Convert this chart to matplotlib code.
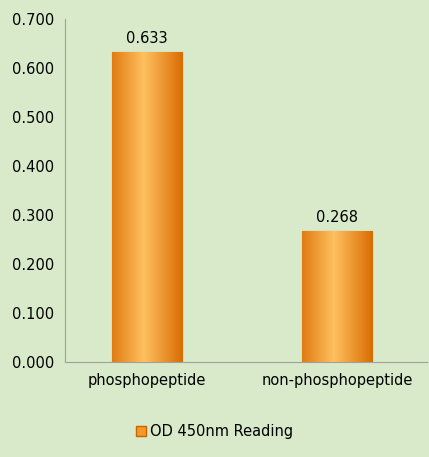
import matplotlib.pyplot as plt
import numpy as np
from matplotlib.patches import Rectangle

categories = ["phosphopeptide", "non-phosphopeptide"]
values = [0.633, 0.268]
yticks = [0.0, 0.1, 0.2, 0.3, 0.4, 0.5, 0.6, 0.7]

bg = "#d8eac9"
fig = plt.figure(figsize=(4.29, 4.57), dpi=100, facecolor=bg)
ax = fig.add_axes([0.1515, 0.208, 0.844, 0.75], facecolor=bg)

x = np.arange(len(categories))
bars = ax.bar(x, values, width=0.37, color="#f59a2a", edgecolor="#c86400", linewidth=0.8, zorder=2)

# horizontal orange gradient inside each bar
grad = np.linspace(0, 1, 256)
grad = 1 - np.abs(grad - 0.45) * 2
cmap = plt.matplotlib.colors.LinearSegmentedColormap.from_list("og", ["#d96c00", "#ffc060"])
for b in bars:
    x0, w, h = b.get_x(), b.get_width(), b.get_height()
    im = ax.imshow(grad[np.newaxis, :], extent=[x0, x0 + w, 0, h], aspect="auto",
                   cmap=cmap, zorder=3)
    im.set_clip_path(b)
    ax.text(x0 + w / 2, h + 0.012, f"{h:.3f}", ha="center", va="bottom", fontsize=10.5, zorder=4)

ax.set_xlim(-0.431, 1.474)
ax.set_ylim(0, 0.7)
ax.set_yticks(yticks)
ax.set_yticklabels([f"{v:.3f}" for v in yticks], fontsize=10.5)
ax.set_xticks(x)
ax.set_xticklabels(categories, fontsize=10.5)
ax.tick_params(axis="x", length=0, pad=8)
ax.tick_params(axis="y", length=0, pad=8)
for s in ["top", "right"]:
    ax.spines[s].set_visible(False)
ax.spines["left"].set_color("#a0a0a0")
ax.spines["bottom"].set_color("#a0a0a0")

handle = Rectangle((0, 0), 1, 1, facecolor="#f59a2a", edgecolor="#c86400")
fig.legend([handle], ["OD 450nm Reading"], loc="center", bbox_to_anchor=(0.5, 0.055),
           frameon=False, fontsize=10.5, handlelength=0.7, handleheight=0.7, handletextpad=0.3)

fig.savefig("out.png", dpi=100, facecolor=bg)
